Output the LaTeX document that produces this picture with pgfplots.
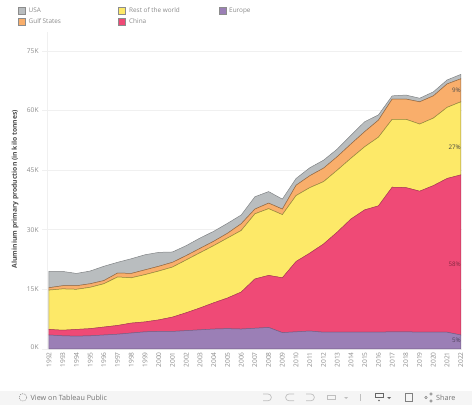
\documentclass[border=0pt]{standalone}
\usepackage{fontspec}
\setmainfont{Open Sans}
\usepackage{pgfplots}
\usepackage{pgfplotstable}
\pgfplotsset{compat=1.18}
\definecolor{cusa}{HTML}{B9BDBF}
\definecolor{cgulf}{HTML}{F9AE6B}
\definecolor{crow}{HTML}{FDE968}
\definecolor{cchn}{HTML}{EF4A76}
\definecolor{ceur}{HTML}{9B7FB6}
\definecolor{txt}{HTML}{8A8A8A}
\pgfplotstableread{
year Europe China Row Gulf USA
1992 3.5 1.4 9.9 0.6 4.1
1993 3.3 1.4 10.4 0.8 3.6
1994 3.2 1.7 10.1 0.9 3.1
1995 3.3 1.8 10.4 0.9 3.2
1996 3.5 2.0 10.9 0.8 3.6
1997 3.7 2.2 12.2 1.0 2.7
1998 4.0 2.5 11.4 1.1 3.7
1999 4.3 2.5 11.9 1.2 3.8
2000 4.4 2.9 12.3 1.2 3.5
2001 4.4 3.6 12.6 1.2 2.6
2002 4.6 4.5 13.3 1.1 2.5
2003 4.8 5.5 13.9 1.1 2.6
2004 5.0 6.6 14.4 1.1 2.5
2005 5.1 7.7 15.1 1.2 2.5
2006 5.0 9.3 15.5 1.7 2.2
2007 5.2 12.4 16.4 1.2 3.1
2008 5.4 13.1 16.8 1.4 2.9
2009 4.1 13.8 15.9 1.4 2.5
2010 4.3 17.7 16.6 2.6 1.7
2011 4.5 19.6 16.5 3.0 2.0
2012 4.2 22.2 15.7 3.4 2.0
2013 4.2 25.2 15.6 3.4 1.9
2014 4.2 28.5 15.3 3.6 2.2
2015 4.2 30.8 15.9 3.8 2.5
2016 4.2 31.8 17.3 4.3 1.3
2017 4.3 36.4 17.1 5.1 0.8
2018 4.3 36.3 17.2 5.1 1.0
2019 4.2 35.5 16.9 5.6 0.9
2020 4.2 36.9 17.0 5.6 1.0
2021 4.2 38.7 17.9 5.9 1.0
2022 3.5 40.3 18.4 5.8 1.1
}\datatable
\begin{document}
\begin{tikzpicture}[x=1pt,y=1pt]
\path[use as bounding box] (0,0) rectangle (474,405);
\fill[black!4] (0,0) rectangle (472,14.4);
\draw[black!6, line width=0.5pt] (47,56.1) -- (47,373);
\begin{axis}[
  at={(42.1pt,56.1pt)}, anchor=origin,
  scale only axis, width=420.1pt, height=317.8pt,
  xmin=1991.5, xmax=2022.1, ymin=0, ymax=80,
  stack plots=y, axis on top=false,
  axis line style={draw=none}, tick style={draw=none},
  ymajorgrids, grid style={black!6, line width=0.5pt},
  xtick={1992,...,2022},
  x tick label style={rotate=90, anchor=east, font=\fontsize{6.6}{7}\selectfont, text=txt},
  xticklabel={\pgfmathprintnumber[1000 sep={},assume math mode=true]{\tick}},
  ytick={0,15,30,45,60,75},
  yticklabels={\raisebox{4pt}{0K},15K,30K,45K,60K,75K},
  y tick label style={font=\fontsize{6.6}{7}\selectfont, text=txt},
  ylabel={\textbf{Aluminium primary production (in kilo tonnes)}},
  ylabel style={font=\fontsize{6.8}{7}\selectfont, text=black!70, at={(axis description cs:-0.0645,0.503)}, anchor=center},
  clip=false,
]
\addplot[fill=ceur, draw=ceur!75!black, line width=0.5pt] table[x=year,y=Europe]{\datatable} \closedcycle;
\addplot[fill=cchn, draw=cchn!75!black, line width=0.5pt] table[x=year,y=China]{\datatable} \closedcycle;
\addplot[fill=crow, draw=crow!60!black, line width=0.5pt] table[x=year,y=Row]{\datatable} \closedcycle;
\addplot[fill=cgulf, draw=cgulf!60!black, line width=0.5pt] table[x=year,y=Gulf]{\datatable} \closedcycle;
\addplot[fill=cusa, draw=cusa!70!black, line width=0.5pt] table[x=year,y=USA]{\datatable} \closedcycle;
\end{axis}
% data labels
\begin{scope}[every node/.style={font=\fontsize{6.2}{7}\selectfont, anchor=east, inner sep=0}]
\node[text=black!70] at (461,315) {9\%};
\node[text=black!75] at (461,258) {27\%};
\node[text=cchn!55!black] at (461,141) {58\%};
\node[text=ceur!50!black] at (461,65) {5\%};
\end{scope}
% legend
\begin{scope}[every node/.style={font=\fontsize{6.4}{7}\selectfont, anchor=west, inner sep=0, text=txt}]
\draw[fill=cusa, draw=black!45, line width=0.5pt] (18.2,390.8) rectangle (25.2,397.8);
\node at (28.5,394.5) {USA};
\draw[fill=cgulf, draw=black!45, line width=0.5pt] (18.2,379.8) rectangle (25.2,386.8);
\node at (28.5,383.5) {Gulf States};
\draw[fill=crow, draw=black!45, line width=0.5pt] (118.5,390.8) rectangle (125.5,397.8);
\node at (129,394.5) {Rest of the world};
\draw[fill=cchn, draw=black!45, line width=0.5pt] (118.5,379.8) rectangle (125.5,386.8);
\node at (129,383.5) {China};
\draw[fill=ceur, draw=black!45, line width=0.5pt] (219,390.8) rectangle (226,397.8);
\node at (229,394.5) {Europe};
\end{scope}
% toolbar
\begin{scope}[every node/.style={inner sep=0, anchor=west, text=black!55}]
\node[font=\fontsize{7.2}{8}\selectfont] at (30.5,7.6) {View on Tableau Public};
\node[font=\fontsize{7.2}{8}\selectfont] at (436,7.6) {Share};
\end{scope}
\draw[black!50, line width=0.5pt, dash pattern=on 1pt off 1pt] (23,7.6) circle (3.8);
\draw[black!25, line width=0.7pt] (263,11) -- (268,11) arc (90:-90:3.4) -- (263,4.2);
\draw[black!25, line width=0.7pt] (294,11) -- (289,11) arc (90:270:3.4) -- (294,4.2);
\draw[black!25, line width=0.7pt] (306,11) -- (311,11) arc (90:-90:3.4) -- (306,4.2);
\draw[black!25, line width=0.7pt] (327,5.5) rectangle (335,9.5);
\fill[black!25] (344,8) -- (348,8) -- (346,6) -- cycle;
\draw[black!25, line width=0.7pt] (360,4) -- (360,11);
\draw[black!60, line width=0.7pt] (375,7.5) rectangle (383,12);
\fill[black!60] (379,4.5) circle (0.8);
\fill[black!60] (387,8) -- (391,8) -- (389,6) -- cycle;
\draw[black!50, line width=0.7pt] (405,3.5) rectangle (412,11.5);
\draw[black!50, line width=0.6pt] (426,7.5) circle (1.3) (431,11) circle (1.3) (431,4) circle (1.3);
\end{tikzpicture}
\end{document}
